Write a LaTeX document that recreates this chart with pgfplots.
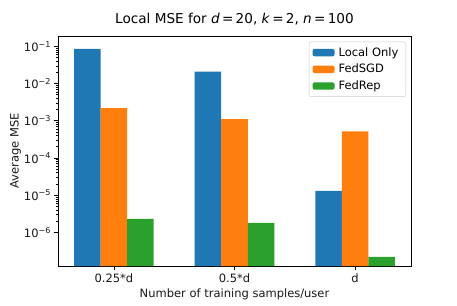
\documentclass[border=0pt]{standalone}
\usepackage{pgfplots}
\pgfplotsset{compat=1.18}
\usepackage{fontspec}
\setmainfont{DejaVu Sans}
\definecolor{tabblue}{HTML}{1F77B4}
\definecolor{taborange}{HTML}{FF7F0E}
\definecolor{tabgreen}{HTML}{2CA02C}
\begin{document}
\begin{tikzpicture}[x=1pt,y=1pt]
\path[use as bounding box] (0,0) rectangle (457,305);
\begin{axis}[
  at={(58pt,39pt)}, anchor=south west,
  scale only axis, width=353pt, height=230pt,
  ymode=log, log origin=infty,
  xmin=-0.463, xmax=2.463,
  ymin=1.25e-7, ymax=0.19,
  xtick={0,1,2}, xticklabels={0.25*d,0.5*d,d},
  ytick={1e-6,1e-5,1e-4,1e-3,1e-2,1e-1},
  yticklabels={10\textsuperscript{−6},10\textsuperscript{−5},10\textsuperscript{−4},10\textsuperscript{−3},10\textsuperscript{−2},10\textsuperscript{−1}},
  tick pos=left, tick align=outside,
  major tick length=3.5pt, minor tick length=2pt,
  every tick/.style={black, line width=0.6pt},
  axis line style={line width=0.8pt},
  tick label style={font=\fontsize{11.5}{13}\selectfont, text=black!90},
  xticklabel style={yshift=-1pt},
  xlabel={Number of training samples/user},
  ylabel={Average MSE},
  label style={font=\fontsize{11.5}{13}\selectfont, text=black!90},
  xlabel style={yshift=1pt},
  ylabel style={yshift=-4pt},
  title={Local MSE for \textit{d}\,=\,20, \textit{k}\,=\,2, \textit{n}\,=\,100},
  title style={font=\fontsize{13.6}{15}\selectfont, at={(0.5,1)}, anchor=south, yshift=1pt},
  legend style={at={(0.986,0.975)}, anchor=north east, draw=black!20, rounded corners=2pt,
    font=\fontsize{11.5}{13}\selectfont, row sep=2.5pt, inner sep=3.5pt,
    nodes={inner xsep=4pt}},
  legend cell align=left,
  legend image code/.code={\fill[#1] (0pt,-3.7pt) rectangle (22pt,3.7pt);},
  bar width=0.22,
]
\addplot[ybar, fill=tabblue, draw=none, bar shift=-0.22] coordinates {(0,0.085) (1,0.021) (2,1.3e-5)};
\addlegendentry{Local Only}
\addplot[ybar, fill=taborange, draw=none, bar shift=0] coordinates {(0,2.2e-3) (1,1.1e-3) (2,5.2e-4)};
\addlegendentry{FedSGD}
\addplot[ybar, fill=tabgreen, draw=none, bar shift=0.22] coordinates {(0,2.3e-6) (1,1.8e-6) (2,2.2e-7)};
\addlegendentry{FedRep}
\end{axis}
\end{tikzpicture}
\end{document}
